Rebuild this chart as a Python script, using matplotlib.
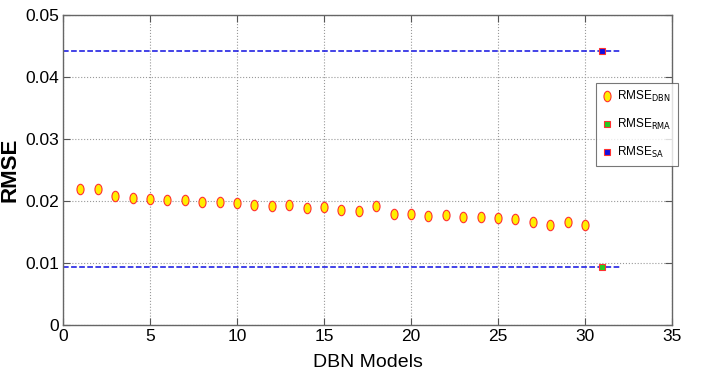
import matplotlib.pyplot as plt
import numpy as np
from matplotlib.path import Path
from matplotlib.transforms import Affine2D

plt.rcParams['font.family'] = ['Liberation Sans', 'DejaVu Sans']

# RMSE of each DBN model
models = list(range(1, 31))
rmse_dbn = [0.0219, 0.0219, 0.0208, 0.0205, 0.0203, 0.0201, 0.0201, 0.0199,
            0.0199, 0.0196, 0.0194, 0.0192, 0.0194, 0.0188, 0.0191, 0.0186,
            0.0184, 0.0192, 0.0179, 0.0179, 0.0176, 0.0177, 0.0174, 0.0174,
            0.0172, 0.0171, 0.0166, 0.0162, 0.0166, 0.0162]
rmse_rma = 0.0093
rmse_sa = 0.0442
ref_x = 31
line_x = [0, 32]

fig = plt.figure(figsize=(7.02, 3.77), dpi=100)
ax = fig.add_axes([63 / 702, 52 / 377, 609 / 702, 310 / 377])

# tall ellipse marker like the original
ellipse = Path.unit_circle().transformed(Affine2D().scale(0.68, 1.0))

ax.plot(line_x, [rmse_sa, rmse_sa], '--', color='#1010e0', lw=1.1, zorder=2)
ax.plot(line_x, [rmse_rma, rmse_rma], '--', color='#1010e0', lw=1.1, zorder=2)

ax.plot(models, rmse_dbn, ls='none', marker=ellipse, ms=7.5, mfc='#ffee00',
        mec='#ff3030', mew=0.8, label=r'RMSE$_{\mathrm{DBN}}$', zorder=3)
ax.plot([ref_x], [rmse_rma], ls='none', marker='s', ms=5, mfc='#22cc22',
        mec='#ff3030', mew=0.8, label=r'RMSE$_{\mathrm{RMA}}$', zorder=3)
ax.plot([ref_x], [rmse_sa], ls='none', marker='s', ms=5, mfc='#1010e0',
        mec='#ff3030', mew=0.8, label=r'RMSE$_{\mathrm{SA}}$', zorder=3)

ax.set_xlim(0, 35)
ax.set_ylim(0, 0.05)
ax.set_xticks(np.arange(0, 36, 5))
ax.set_yticks([0, 0.01, 0.02, 0.03, 0.04, 0.05])
ax.set_yticklabels(['0', '0.01', '0.02', '0.03', '0.04', '0.05'])
ax.tick_params(direction='in', labelsize=12.5, length=5, color='#555555',
               top=True, right=True, pad=3)
ax.grid(True, ls=':', color='#999999', lw=0.8)
for s in ax.spines.values():
    s.set_color('#666666')
    s.set_linewidth(1.0)

ax.set_xlabel('DBN Models', fontsize=14)
ax.xaxis.set_label_coords(0.5, -0.092)
ax.set_ylabel('RMSE', fontsize=16, fontweight='bold')
ax.yaxis.set_label_coords(-0.07, 0.5)

leg = ax.legend(loc='upper left', bbox_to_anchor=(533 / 609, 242 / 310),
                borderaxespad=0, fontsize=8.5, frameon=True, fancybox=False,
                handlelength=0.8, handletextpad=0.5, borderpad=0.5,
                labelspacing=1.1)
leg.get_frame().set_edgecolor('#555555')
leg.get_frame().set_linewidth(0.8)

fig.savefig('out.png', dpi=100)
